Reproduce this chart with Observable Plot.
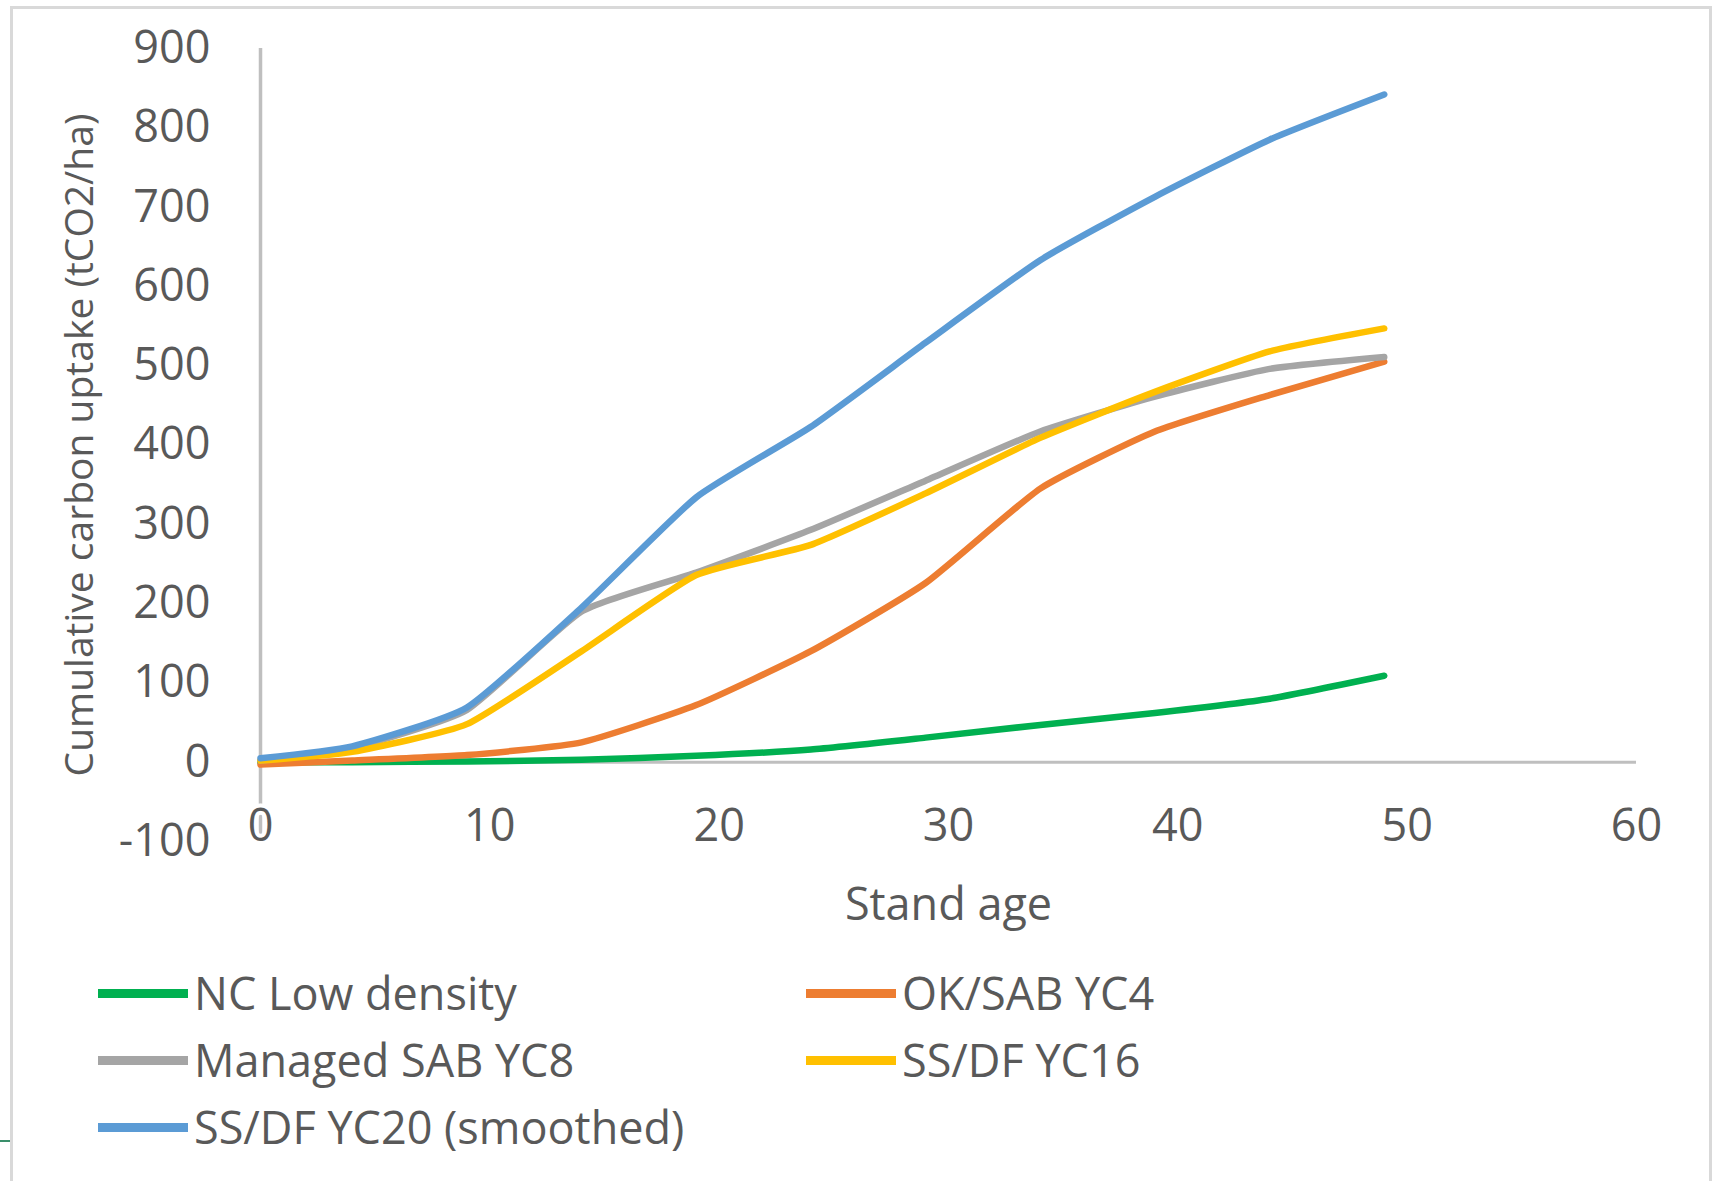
<!DOCTYPE html>
<html>
<head>
<meta charset="utf-8">
<script src="https://cdn.jsdelivr.net/npm/d3@7"></script>
<script src="https://cdn.jsdelivr.net/npm/@observablehq/plot@0.6"></script>
<style>
  html, body { margin: 0; padding: 0; background: #fff; }
  #chart { position: relative; width: 1712px; height: 1181px; overflow: hidden; font-family: "Open Sans", sans-serif; color: #595959; }
  #frame { position: absolute; left: 10px; top: 6px; width: 1702px; height: 1200px; border: 3px solid #D9D9D9; box-sizing: border-box; }
  #plot { position: absolute; left: 0; top: 0; }
  #legend { position: absolute; left: 0; top: 0; width: 1712px; height: 1181px; pointer-events: none; }
  .item { position: absolute; display: flex; align-items: center; height: 66px; font-size: 45px; line-height: 66px; white-space: nowrap; }
  .sw { width: 90px; height: 9px; margin-right: 6px; }
  #tick { position: absolute; left: 0; top: 1140px; width: 10px; height: 2px; background: #3a8f6b; }
</style>
</head>
<body>
<div id="chart">
  <div id="frame"></div>
  <div id="plot"></div>
  <div id="legend"></div>
  <div id="tick"></div>
</div>
<script>
// ---- data ----
const ages = [0, 4, 9, 14, 19, 24, 29, 34, 39, 44, 49];
const seriesNames = ["NC Low density", "OK/SAB YC4", "Managed SAB YC8", "SS/DF YC16", "SS/DF YC20 (smoothed)"];
const seriesColors = ["#00B050", "#ED7D31", "#A5A5A5", "#FFC000", "#5B9BD5"];
const ncLowDensity  = [0, 0, 1, 3, 8, 16, 31, 47, 62, 80, 109];
const okSabYC4      = [-3, 2, 9, 25, 72, 140, 226, 345, 417, 463, 505];
const managedSabYC8 = [2, 18, 66, 190, 239, 293, 355, 417, 461, 496, 511];
const ssDfYC16      = [2, 13, 48, 140, 236, 274, 339, 409, 467, 518, 547];
const ssDfYC20      = [5, 20, 69, 195, 334, 423, 529, 633, 713, 785, 842];
const xTicks = [0, 10, 20, 30, 40, 50, 60];
const yTicks = [-100, 0, 100, 200, 300, 400, 500, 600, 700, 800, 900];
const xTitle = "Stand age";
const yTitle = "Cumulative carbon uptake (tCO2/ha)";

const seriesValues = [ncLowDensity, okSabYC4, managedSabYC8, ssDfYC16, ssDfYC20];
const rows = [];
seriesNames.forEach((name, i) => {
  ages.forEach((a, j) => rows.push({series: name, age: a, value: seriesValues[i][j]}));
});

const grey = "#595959";
const axisLine = "#BFBFBF";
const fmt = d => String(d);

const chart = Plot.plot({
  width: 1712,
  height: 970,
  marginLeft: 260,
  marginRight: 76,
  marginTop: 48,
  marginBottom: 129,
  style: { fontFamily: "Open Sans, sans-serif", fontSize: "45px", color: grey, background: "transparent" },
  x: { domain: [0, 60], ticks: xTicks },
  y: { domain: [-100, 900], ticks: yTicks },
  color: { domain: seriesNames, range: seriesColors },
  marks: [
    Plot.ruleX([0], { y1: -100, y2: 900, stroke: axisLine, strokeWidth: 3.5 }),
    Plot.ruleY([0], { stroke: axisLine, strokeWidth: 3 }),
    Plot.lineY(rows, {
      x: "age", y: "value", z: "series", stroke: "series",
      strokeWidth: 6.5, curve: "cardinal", tension: 0.5, strokeLinejoin: "round"
    }),
    Plot.axisY({
      ticks: yTicks, tickFormat: fmt, tickSize: 0, tickPadding: 50, label: null,
      fill: grey, fontSize: 45
    }),
    Plot.axisY({
      ticks: [], label: yTitle, labelAnchor: "center", labelArrow: "none",
      labelOffset: 195, fontSize: 39, fill: grey
    }),
    Plot.axisX({
      ticks: xTicks, tickFormat: fmt, tickSize: 0, tickPadding: 0, dy: -32, label: xTitle,
      labelAnchor: "center", labelArrow: "none", labelOffset: 78,
      fill: grey, fontSize: 45, textStroke: "white", textStrokeWidth: 8
    })
  ]
});
document.getElementById("plot").appendChild(chart);

// ---- legend ----
const legend = document.getElementById("legend");
seriesNames.forEach((name, i) => {
  const col = i % 2, row = Math.floor(i / 2);
  const it = document.createElement("div");
  it.className = "item";
  it.style.left = (col ? 806 : 98) + "px";
  it.style.top = (960 + row * 67) + "px";
  const sw = document.createElement("div");
  sw.className = "sw";
  sw.style.background = seriesColors[i];
  const tx = document.createElement("span");
  tx.textContent = name;
  it.appendChild(sw); it.appendChild(tx);
  legend.appendChild(it);
});
</script>
</body>
</html>
